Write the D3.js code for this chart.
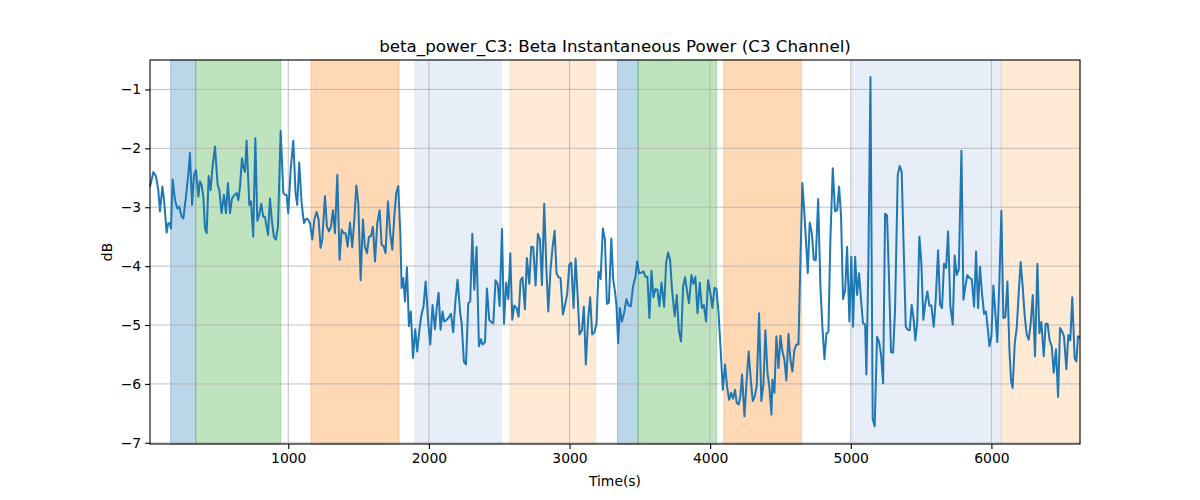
<!DOCTYPE html>
<html><head><meta charset="utf-8">
<script src="https://cdn.jsdelivr.net/npm/d3@7"></script>
<style>body{margin:0;background:#fff}svg{font-family:"DejaVu Sans",sans-serif}</style>
</head><body><svg id="c" width="1200" height="500"></svg>
<script>
const times=[17,41,60,76,88,105,117,135,147,159,166,178,195,211,225,242,254,273,289,301,316,330,344,361,372,384,396,408,420,434,448,462,479,498,510,526,543,557,571,586,600,619,633,645,657,671,680,692,704,723,735,751,766,780,794,808,822,834,856,870,884,898,912,927,946,965,976,988,1000,1017,1036,1052,1064,1078,1095,1112,1126,
1138,1155,1171,1185,1202,1216,1230,1242,1261,1275,1290,1304,1318,1332,1349,1365,1380,1394,1408,1422,1439,1455,1470,1484,1498,1515,1531,1545,1560,1574,1588,1602,1617,1633,1650,1664,1678,1692,1709,1725,1740,1754,1768,1782,1797,1806,1818,1830,1844,1858,1872,1887,1903,1917,1934,1948,1962,1977,1996,2010,2026,2043,2057,2069,2083,2097,2109,2123,2138,2157,2173,2190,2204,2223,
2233,2249,2264,2280,2294,2309,2323,2339,2356,2370,2382,2399,2413,2429,2444,2458,2474,2489,2503,2520,2534,2550,2565,2579,2593,2607,2624,2638,2652,2666,2683,2697,2714,2728,2742,2759,2775,2790,2804,2820,2835,2849,2865,2880,2894,2908,2922,2936,2953,2970,2984,2998,3012,3029,3043,3057,3071,3088,3102,3116,3133,3147,3161,3178,3192,3206,3221,3237,3252,3266,3280,3297,3311,3325,
3334,3346,3358,3372,3388,3405,3421,3436,3452,3469,3481,3495,3512,3526,3540,3554,3568,3583,3597,3611,3625,3639,3654,3673,3687,3701,3715,3729,3748,3763,3777,3793,3808,3822,3836,3850,3867,3881,3895,3910,3926,3941,3955,3971,3985,4002,4016,4031,4045,4059,4076,4090,4106,4120,4135,4149,4163,4177,4189,4203,4215,4227,4244,4260,4274,4289,4303,4317,4331,4348,4364,4379,4393,4407,4421,4436,
4443,4457,4471,4486,4500,4514,4528,4542,4557,4571,4585,4599,4614,4628,4642,4656,4670,4685,4694,4708,4723,4737,4751,4768,4784,4798,4813,4827,4841,4855,4872,4888,4903,4917,4931,4945,4960,4974,4990,5004,5016,5031,5045,5059,5073,5087,5102,5111,5125,5140,5156,5170,5187,5201,5215,5230,5244,5258,5272,5286,5301,5315,5334,5348,5362,5376,5391,5405,5419,5433,5447,5459,5473,5488,5502,5516,5530,
5545,5559,5573,5590,5604,5621,5635,5649,5663,5678,5692,5708,5725,5739,5753,5768,5787,5801,5815,5829,5843,5860,5877,5891,5905,5919,5933,5948,5962,5976,5986,6000,6014,6028,6042,6057,6071,6085,6099,6114,6128,6140,6151,6166,6180,6194,6208,6223,6237,6251,6265,6279,6294,6310,6327,6341,6355,6372,6386,6400,6414,6429,6443,6459,6474,6488,6502,6516,6533,6547,6561,6575,6592,6604,6616,6630];
const power=[-2.65,-2.40,-2.48,-2.71,-3.07,-2.65,-2.88,-3.43,-3.27,-3.27,-3.36,-2.53,-2.88,-3.02,-2.99,-3.16,-3.19,-2.82,-2.45,-2.08,-2.96,-2.45,-2.37,-2.82,-2.56,-2.62,-2.82,-3.36,-3.44,-2.47,-2.71,-2.31,-1.97,-2.62,-2.71,-3.10,-2.79,-3.10,-2.59,-3.10,-2.85,-2.79,-2.76,-2.88,-2.65,-2.17,-2.31,-2.40,-1.87,-2.96,-2.90,-3.50,-1.83,-3.23,-3.13,-2.94,-3.16,-3.16,-3.47,-2.85,-3.24,-3.50,-3.55,-3.33,-1.70,-2.76,-2.79,-2.79,-3.10,-2.37,-1.87,-2.76,-2.96,-2.24,-2.93,-3.27,-3.20,
-3.20,-3.27,-3.55,-3.21,-3.08,-3.21,-3.69,-3.55,-2.81,-3.33,-3.41,-3.33,-3.05,-3.44,-2.45,-3.89,-3.38,-3.44,-3.44,-3.67,-3.26,-3.68,-3.21,-2.63,-2.93,-4.24,-3.21,-3.67,-3.78,-3.50,-3.49,-3.33,-3.92,-3.27,-3.05,-3.64,-3.66,-3.78,-2.90,-3.44,-3.72,-3.16,-2.76,-2.64,-3.44,-4.37,-4.20,-4.60,-4.02,-5.02,-4.77,-5.56,-5.07,-5.45,-5.05,-4.82,-4.68,-4.26,-4.97,-5.33,-4.66,-5.07,-4.68,-4.45,-5.08,-4.77,-4.94,-4.92,-4.88,-4.81,-5.12,-4.56,-4.23,-4.80,
-4.97,-5.62,-5.67,-4.63,-4.60,-3.45,-4.40,-3.67,-5.36,-5.24,-5.33,-5.29,-4.38,-4.91,-4.95,-4.97,-4.24,-4.30,-4.68,-3.37,-4.98,-4.28,-4.56,-3.78,-4.91,-4.67,-4.71,-4.86,-4.24,-4.19,-4.73,-3.86,-4.30,-3.67,-3.68,-4.33,-3.45,-3.55,-4.32,-2.94,-4.01,-4.77,-4.06,-3.67,-3.40,-4.12,-4.19,-4.20,-4.82,-4.64,-4.46,-3.98,-3.94,-4.71,-3.87,-4.46,-5.16,-5.09,-4.69,-5.67,-4.88,-4.53,-5.16,-5.12,-4.97,-4.09,-4.22,-3.36,-3.55,-4.64,-4.62,-3.53,-4.23,-4.46,
-4.68,-5.31,-4.71,-4.94,-4.80,-4.56,-4.67,-4.68,-4.34,-4.18,-3.92,-4.12,-4.11,-4.09,-4.18,-4.18,-4.88,-4.08,-4.53,-4.39,-4.40,-4.68,-4.28,-4.69,-3.95,-3.77,-3.89,-4.40,-4.85,-4.49,-5.08,-5.28,-4.34,-4.19,-4.43,-4.63,-4.15,-4.30,-4.18,-4.80,-4.28,-4.71,-4.66,-4.94,-4.24,-4.46,-4.71,-4.37,-4.39,-4.77,-5.47,-6.10,-5.67,-6.04,-6.27,-6.15,-6.25,-6.10,-6.32,-6.35,-6.21,-5.84,-6.55,-5.93,-5.45,-5.93,-6.29,-6.21,-6.04,-4.80,-6.29,-6.01,-5.09,-5.79,-6.05,-6.52,
-5.93,-6.15,-5.19,-5.73,-5.18,-5.45,-5.59,-5.94,-5.15,-5.59,-5.79,-5.42,-5.33,-5.33,-3.89,-2.59,-3.10,-3.72,-4.12,-3.26,-3.44,-3.89,-3.90,-2.86,-4.34,-5.02,-5.58,-5.14,-5.12,-3.55,-2.34,-3.07,-3.05,-2.65,-3.16,-4.56,-4.41,-3.67,-4.94,-3.84,-5.03,-3.84,-4.49,-4.12,-4.57,-4.97,-4.99,-5.84,-4.01,-0.79,-6.60,-6.72,-5.20,-5.28,-5.50,-5.99,-3.11,-3.14,-4.23,-5.46,-5.47,-4.74,-2.45,-2.30,-2.40,-3.67,-5.03,-5.08,-5.09,-4.66,-4.90,-5.26,-4.94,-3.50,-3.95,-4.91,-4.63,
-4.43,-4.67,-4.67,-5.03,-4.57,-3.73,-4.66,-4.71,-3.96,-4.03,-3.41,-4.68,-4.99,-3.82,-4.15,-4.06,-2.04,-4.57,-4.34,-4.15,-4.20,-4.22,-4.69,-3.75,-4.71,-4.01,-4.46,-4.81,-4.77,-5.11,-5.36,-5.19,-4.33,-4.80,-5.29,-4.23,-3.06,-4.88,-4.87,-4.26,-5.42,-5.95,-6.07,-5.31,-5.05,-4.46,-3.93,-4.37,-4.85,-5.16,-5.25,-4.99,-4.49,-5.53,-3.96,-5.14,-4.95,-5.53,-4.98,-4.98,-5.26,-5.36,-5.81,-5.41,-6.22,-5.05,-5.11,-5.19,-5.75,-5.17,-5.26,-4.53,-5.56,-5.62,-5.19,-5.22];
const spanStarts=[164,342,1161,1901,2576,3341,3488,4097,5007,6069];
const spanEnds=[342,946,1788,2517,3185,3488,4045,4649,6069,6630];
const spanColors=["#1f77b4","#2ca02c","#ff7f0e","#aec7e8","#ffbb78","#1f77b4","#2ca02c","#ff7f0e","#aec7e8","#ffbb78"];
const xTicks=[1000,2000,3000,4000,5000,6000];
const yTicks=[-1,-2,-3,-4,-5,-6,-7];
const title="beta_power_C3: Beta Instantaneous Power (C3 Channel)";
const xLabel="Time(s)", yLabel="dB";

const L=150,R=1080,T=60,B=444;
const svg=d3.select("#c");
const x=d3.scaleLinear().domain(d3.extent(times)).range([L,R]);
const y=d3.scaleLinear().domain([-7.02,-0.50]).range([B,T]);
const spans=spanStarts.map((s,i)=>({s,e:spanEnds[i],c:spanColors[i]}));
svg.append("g").selectAll("rect").data(spans).join("rect")
 .attr("x",d=>x(d.s)).attr("width",d=>x(d.e)-x(d.s)).attr("y",T).attr("height",B-T)
 .attr("fill",d=>d.c).attr("fill-opacity",0.3).attr("stroke",d=>d.c).attr("stroke-opacity",0.3).attr("stroke-width",1);
const grid=svg.append("g").attr("stroke","#b0b0b0").attr("stroke-width",0.8);
grid.selectAll(".gx").data(xTicks).join("line").attr("x1",d=>x(d)).attr("x2",d=>x(d)).attr("y1",T).attr("y2",B);
grid.selectAll(".gy").data(yTicks).join("line").attr("y1",d=>y(d)).attr("y2",d=>y(d)).attr("x1",L).attr("x2",R);
const pts=times.map((t,i)=>[t,power[i]]);
svg.append("path").datum(pts).attr("fill","none").attr("stroke","#1f77b4").attr("stroke-width",2).attr("stroke-linejoin","round")
 .attr("d",d3.line().x(d=>x(d[0])).y(d=>y(d[1])));
const fmt=d=>(d<0?"\u2212":"")+Math.abs(d);
const xa=svg.append("g").attr("transform",`translate(0,${B})`).call(d3.axisBottom(x).tickValues(xTicks).tickFormat(d3.format("d")).tickSizeOuter(0).tickSize(4.9).tickPadding(4));
const ya=svg.append("g").attr("transform",`translate(${L},0)`).call(d3.axisLeft(y).tickValues(yTicks).tickFormat(fmt).tickSizeOuter(0).tickSize(4.9).tickPadding(4));
[xa,ya].forEach(a=>{a.select(".domain").remove();a.selectAll("text").attr("font-size",13.9).attr("fill","#000").attr("font-family","DejaVu Sans");a.selectAll("line").attr("stroke","#000").attr("stroke-width",1.1);});
svg.append("rect").attr("x",L).attr("y",T).attr("width",R-L).attr("height",B-T).attr("fill","none").attr("stroke","#000").attr("stroke-width",1.1);
svg.append("text").attr("x",(L+R)/2).attr("y",52).attr("text-anchor","middle").attr("font-size",16.7).text(title);
svg.append("text").attr("x",(L+R)/2).attr("y",486).attr("text-anchor","middle").attr("font-size",13.9).text(xLabel);
svg.append("text").attr("transform",`translate(112,${(T+B)/2}) rotate(-90)`).attr("text-anchor","middle").attr("font-size",13.9).text(yLabel);
</script></body></html>
